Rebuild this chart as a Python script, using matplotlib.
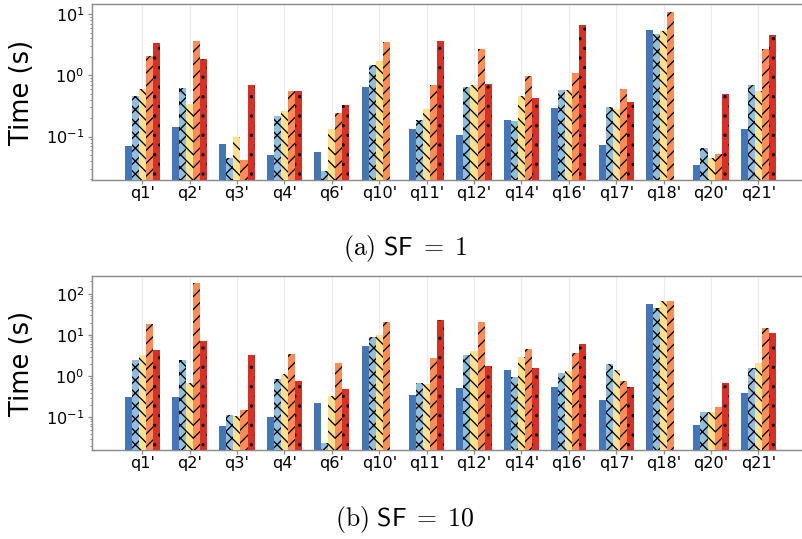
import numpy as np
import matplotlib
matplotlib.use("Agg")
import matplotlib.pyplot as plt

plt.rcParams["mathtext.fontset"] = "cm"
plt.rcParams["font.family"] = ["DejaVu Sans"]
plt.rcParams["hatch.linewidth"] = 0.8

queries = ["q1'", "q2'", "q3'", "q4'", "q6'", "q10'", "q11'", "q12'",
           "q14'", "q16'", "q17'", "q18'", "q20'", "q21'"]

nan = np.nan
# SF = 1 runtimes (s), one list per system
sf1_s1 = [0.070, 0.143, 0.076, 0.050, 0.056, 0.652, 0.132, 0.106, 0.185, 0.293, 0.072, 5.48, 0.035, 0.135]
sf1_s2 = [0.454, 0.620, 0.045, 0.219, 0.027, 1.47, 0.187, 0.637, 0.178, 0.569, 0.304, 4.77, 0.066, 0.695]
sf1_s3 = [0.590, 0.336, 0.097, 0.265, 0.135, 1.71, 0.282, 0.695, 0.454, 0.582, 0.282, 5.28, 0.044, 0.561]
sf1_s4 = [2.07, 3.67, 0.042, 0.561, 0.240, 3.45, 0.695, 2.65, 0.975, 1.10, 0.598, 10.9, 0.053, 2.65]
sf1_s5 = [3.37, 1.87, 0.695, 0.561, 0.324, nan, 3.59, 0.721, 0.426, 6.61, 0.367, nan, 0.495, 4.60]

# SF = 10 runtimes (s)
sf10_s1 = [0.314, 0.314, 0.061, 0.102, 0.229, 5.37, 0.358, 0.520, 1.40, 0.540, 0.260, 55.5, 0.064, 0.386]
sf10_s2 = [2.49, 2.49, 0.112, 0.860, 0.024, 8.73, 0.664, 3.24, 0.946, 1.20, 1.96, 46.0, 0.133, 1.57]
sf10_s3 = [3.30, 0.676, 0.108, 1.12, 0.326, 9.95, 0.638, 4.13, 2.90, 1.32, 1.40, 68.0, 0.133, 2.07]
sf10_s4 = [18.7, 180.0, 0.149, 3.43, 2.07, 20.6, 2.74, 20.6, 4.46, 3.70, 0.755, 68.0, 0.183, 14.7]
sf10_s5 = [4.29, 7.10, 3.24, 0.769, 0.492, nan, 23.4, 1.78, 1.57, 6.12, 0.530, nan, 0.664, 11.3]

colors = ["#4575b4", "#91bfdb", "#fee090", "#fc8d59", "#d73027"]
hatches = [None, "xxx", "\\\\\\", "///", ".."]

W, H, DPI = 802, 539, 116
fig = plt.figure(figsize=(W / DPI, H / DPI), dpi=DPI)

spine_col = "#8c8c8c"


def draw_panel(ax, series, ylim, caption, cap_y):
    x = np.arange(len(queries))
    bw = 0.148
    for i, vals in enumerate(series):
        v = np.array(vals, dtype=float)
        m = ~np.isnan(v)
        ax.bar(x[m] + (i - 2) * bw, v[m], width=bw, color=colors[i],
               edgecolor="black", linewidth=0, hatch=hatches[i], zorder=3)
    ax.set_yscale("log")
    ax.set_ylim(*ylim)
    ax.set_xlim(-1.067, 13.97)
    ax.set_xticks(x)
    ax.set_xticklabels(queries, fontsize=10)
    ax.tick_params(axis="x", length=2.5, width=0.8, color=spine_col, pad=1)
    ax.tick_params(axis="y", which="major", length=2.5, width=0.8,
                   color=spine_col, labelsize=10, pad=2)
    ax.tick_params(axis="y", which="minor", length=1.5, width=0.6, color=spine_col)
    ax.grid(axis="x", color="#ececec", linewidth=0.7, zorder=0)
    ax.grid(axis="y", visible=False, which="both")
    for s in ["left", "top", "bottom"]:
        ax.spines[s].set_color(spine_col)
        ax.spines[s].set_linewidth(0.9)
    ax.spines["right"].set_visible(False)
    ax.set_ylabel("Time (s)", fontsize=16)
    ax.yaxis.set_label_coords(-0.080, 0.5)
    fig.text(405 / W, 1 - cap_y / H, caption, fontsize=16,
             ha="center", va="baseline")


ax1 = fig.add_axes([91.6 / W, 1 - 180 / H, (W - 91.6) / W + 0.003, 176 / H])
ax2 = fig.add_axes([91.6 / W, 1 - 450.3 / H, (W - 91.6) / W + 0.003, 174.3 / H])

draw_panel(ax1, [sf1_s1, sf1_s2, sf1_s3, sf1_s4, sf1_s5], (0.0196, 14.6),
           r"$\mathrm{(a)}\ \mathsf{SF}\;=\;1$", 255)
draw_panel(ax2, [sf10_s1, sf10_s2, sf10_s3, sf10_s4, sf10_s5], (0.0158, 271),
           r"$\mathrm{(b)}\ \mathsf{SF}\;=\;10$", 526)

fig.savefig("out.png", dpi=DPI)
